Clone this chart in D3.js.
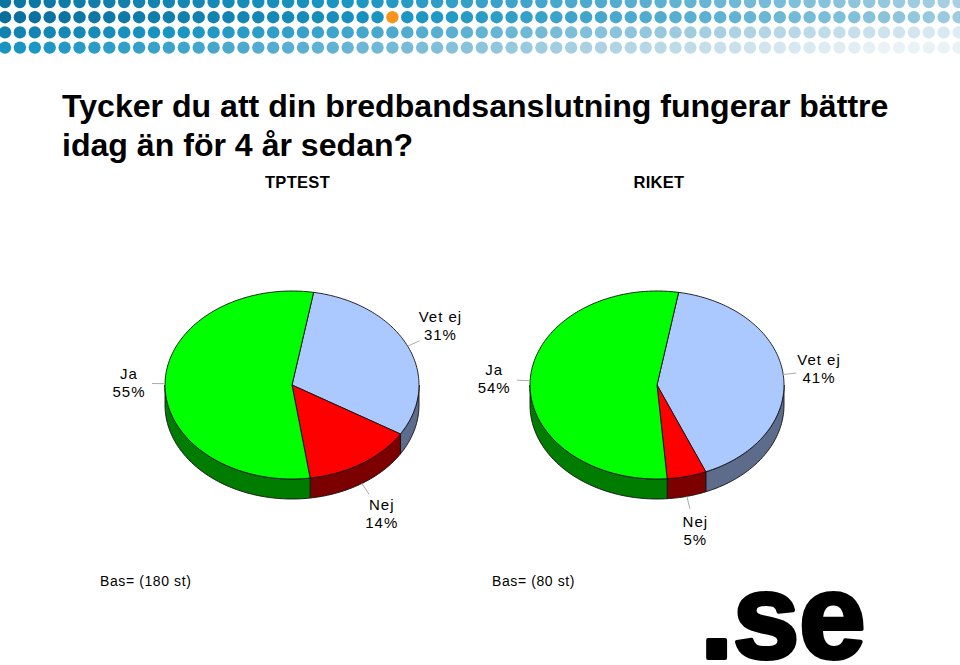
<!DOCTYPE html>
<html><head><meta charset="utf-8">
<script src="https://cdn.jsdelivr.net/npm/d3@7"></script>
<style>body{margin:0;background:#fff}svg{display:block}</style>
</head><body>
<svg id="c" width="960" height="665"></svg>
<script>
// ---- data ----
const titleLines = ["Tycker du att din bredbandsanslutning fungerar bättre", "idag än för 4 år sedan?"];
const groups = ["TPTEST", "RIKET"];
const categories = ["Vet ej", "Nej", "Ja"];   // clockwise order in the pies
const tptestValues = [31, 14, 55];
const riketValues = [41, 5, 54];
const bases = ["Bas= (180 st)", "Bas= (80 st)"];
const topColors = {"Ja": "#00ff00", "Nej": "#ff0000", "Vet ej": "#abc8ff"};
const sideColors = {"Ja": "#007c00", "Nej": "#7d0000", "Vet ej": "#5e6c8c"};

const svg = d3.select("#c");
const W = 960, H = 665;

// ---- decorative dot band ----
const dotColor = d3.scaleLinear()
  .domain([0, 0.3, 0.55, 0.75, 1])
  .range(["#0a6e9b", "#1a95c2", "#62b3d3", "#a9d0e2", "#eaf2f6"])
  .clamp(true);
const rowStart = [0.05, 0.0, 0.15, 0.28];
const rowSlope = [0.70, 0.72, 0.80, 0.78];
const band = svg.append("g");
for (let r = 0; r < 4; r++) {
  for (let c = 0; c < 66; c++) {
    const x = 5 + c * 14.9, y = 2 + r * 15.2;
    const isOrange = (r === 1 && c === 26);
    band.append("circle").attr("cx", x).attr("cy", y).attr("r", 6.2)
      .attr("fill", isOrange ? "#f7941d" : dotColor(rowStart[r] + rowSlope[r] * x / W));
  }
}

// ---- title ----
const title = svg.append("text").attr("font-family", "Liberation Sans, Arial, sans-serif")
  .attr("font-weight", "bold").attr("font-size", 32.1).attr("fill", "#000");
titleLines.forEach((t, i) => title.append("tspan").attr("x", 62).attr("y", 117 + i * 38.5).text(t));

// ---- pies ----
const xPos = d3.scalePoint().domain(groups).range([292, 657]);
const rx = 127, ry = 94, depth = 20, cy = 385;
const start = 9.8 * Math.PI / 180;
const pie = d3.pie().sort(null).value(d => d.v).startAngle(start).endAngle(start + 2 * Math.PI);

function pt(cx, a, yo) { return [cx + rx * Math.sin(a), cy + (yo || 0) - ry * Math.cos(a)]; }
function arcPts(cx, a0, a1, yo) {
  const n = Math.max(2, Math.ceil(Math.abs(a1 - a0) / 0.02));
  return d3.range(n + 1).map(i => pt(cx, a0 + (a1 - a0) * i / n, yo));
}
const line = d3.line();

[tptestValues, riketValues].forEach((vals, gi) => {
  const cx = xPos(groups[gi]);
  const data = categories.map((k, i) => ({k, v: vals[i]}));
  const arcs = pie(data);
  const g = svg.append("g");
  // sides (front half: angles between PI/2 and 3PI/2, modulo 2PI)
  arcs.forEach(a => {
    [0, 2 * Math.PI].forEach(off => {
      const s = Math.max(a.startAngle, Math.PI / 2 + off);
      const e = Math.min(a.endAngle, 3 * Math.PI / 2 + off);
      if (e > s) {
        const pts = arcPts(cx, s, e, 0).concat(arcPts(cx, e, s, depth));
        g.append("path").attr("d", line(pts) + "Z")
          .attr("fill", sideColors[a.data.k]).attr("stroke", "#111").attr("stroke-width", 0.9)
          .attr("stroke-linejoin", "round");
      }
    });
  });
  // tops
  arcs.forEach(a => {
    const pts = [[cx, cy]].concat(arcPts(cx, a.startAngle, a.endAngle, 0));
    g.append("path").attr("d", line(pts) + "Z")
      .attr("fill", topColors[a.data.k]).attr("stroke", "#111").attr("stroke-width", 0.9)
      .attr("stroke-linejoin", "round");
  });
  // labels
  arcs.forEach(a => {
    const m = (a.startAngle + a.endAngle) / 2;
    const dx = Math.sin(m), dy = -Math.cos(m);
    const extra = depth * (Math.cos(m) < -0.3 ? 1 : 0);
    const [ex, ey] = pt(cx, m, extra);
    g.append("line").attr("x1", ex).attr("y1", ey)
      .attr("x2", ex + dx * 13).attr("y2", ey + dy * 13)
      .attr("stroke", "#aaa").attr("stroke-width", 1);
    const tx = ex + dx * 36, ty = ey + dy * 36 - 13 * Math.max(0, -dy);
    const t = g.append("text").attr("font-family", "Liberation Sans, Arial, sans-serif")
      .attr("font-size", 15).attr("letter-spacing", 1).attr("text-anchor", "middle").attr("fill", "#000");
    t.append("tspan").attr("x", tx).attr("y", ty - 4).text(a.data.k);
    t.append("tspan").attr("x", tx).attr("y", ty + 14).text(a.data.v + "%");
  });
});

// group headers
svg.selectAll("text.grp").data(groups).join("text").attr("class", "grp")
  .attr("x", (d, i) => xPos(d) + (i === 0 ? 5.5 : 2))
  .attr("y", 188).attr("text-anchor", "middle")
  .attr("font-family", "Liberation Sans, Arial, sans-serif").attr("font-weight", "bold")
  .attr("font-size", 16.5).attr("letter-spacing", 0.3).text(d => d);

// bases
svg.selectAll("text.bas").data(bases).join("text").attr("class", "bas")
  .attr("x", (d, i) => i === 0 ? 100 : 492).attr("y", 586)
  .attr("font-family", "Liberation Sans, Arial, sans-serif")
  .attr("font-size", 14).attr("letter-spacing", 0.6).text(d => d);

// logo
svg.append("text").attr("x", 700).attr("y", 658)
  .attr("font-family", "Liberation Sans, Arial, sans-serif").attr("font-weight", "bold")
  .attr("font-size", 120).attr("letter-spacing", -0.5).attr("fill", "#000")
  .attr("stroke", "#000").attr("stroke-width", 4).attr("stroke-linejoin", "round")
  .text(".se");
</script>
</body></html>
